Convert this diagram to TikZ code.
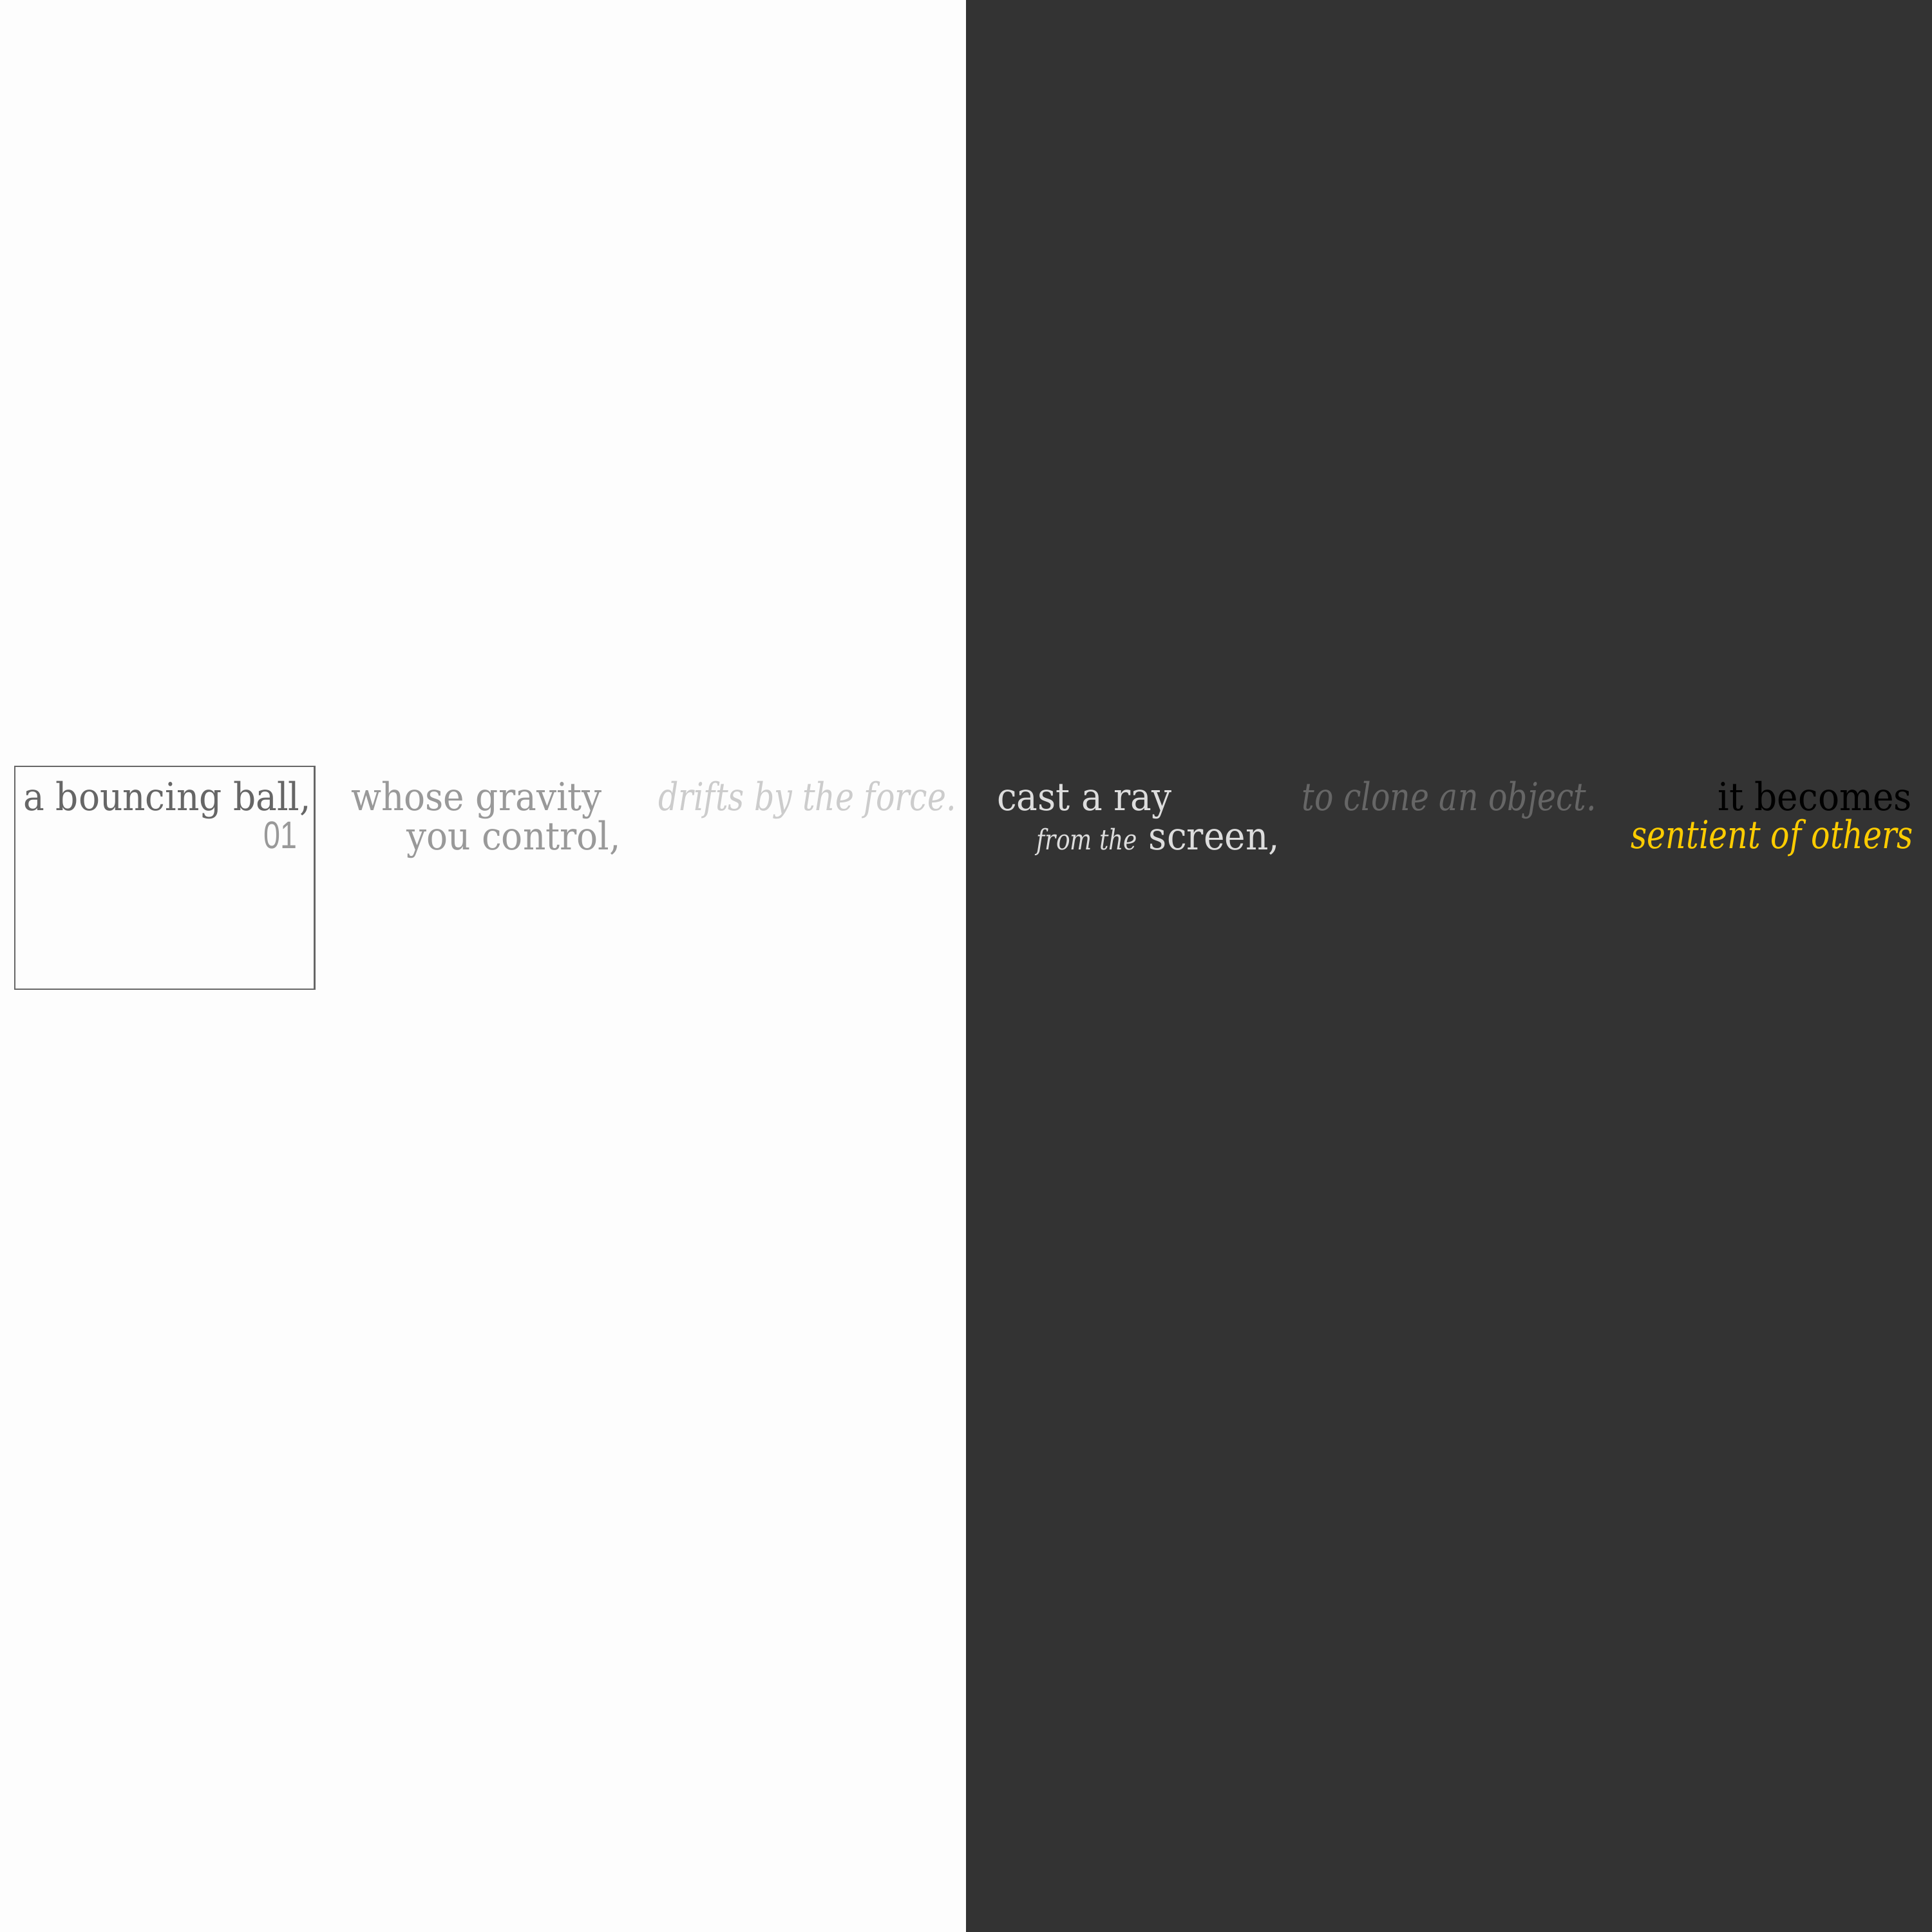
\documentclass[tikz,border=0pt]{standalone}
\usepackage{fontspec}
\setmainfont[FakeStretch=0.92,ItalicFeatures={FakeStretch=0.82}]{DejaVu Serif}
\newfontfamily\numfont[FakeStretch=0.78]{Liberation Sans}
\definecolor{paper}{HTML}{FDFDFD}
\definecolor{night}{HTML}{333333}
\definecolor{ink}{HTML}{666666}
\definecolor{fade}{HTML}{999999}
\definecolor{mist}{HTML}{CCCCCC}
\definecolor{chalk}{HTML}{DDDDDD}
\definecolor{gold}{HTML}{FFCC00}
\tikzset{
  line/.style={inner sep=0pt,outer sep=0pt,font=\fontsize{17}{20}\selectfont},
  slant/.style={line,font=\fontsize{17}{20}\selectfont\itshape}
}
\begin{document}
\begin{tikzpicture}
\useasboundingbox (0,0) rectangle (30,30);
\fill[paper] (0,0) rectangle (15,30);
\fill[night] (15,0) rectangle (30,30);

\draw[ink,line width=0.6pt] (0.23,14.64) rectangle (4.885,18.10);

\node[line,ink,anchor=base east](ball) at (4.83,17.41) {a bouncing ball,};
\node[inner sep=0pt,fade,anchor=base east,font=\fontsize{17}{20}\numfont](num) at (4.62,16.82) {01};

\node[line,fade,anchor=base east](grav) at (9.35,17.41) {whose gravity};
\node[line,fade,anchor=base east](ctrl) at (9.64,16.80) {you control,};

\node[slant,mist,anchor=base east](drift) at (14.85,17.41) {drifts by the force.};

\node[line,chalk,anchor=base west](ray) at (15.48,17.41) {cast a ray};
\node[line,chalk,anchor=base east](scr) at (19.87,16.80) {{\fontsize{12.5}{15}\selectfont\itshape from the} screen,};

\node[slant,ink,anchor=base east](clone) at (24.79,17.41) {to clone an object.};

\node[line,black,anchor=base east](becomes) at (29.69,17.41) {it becomes};
\node[slant,gold,anchor=base east](others) at (29.71,16.82) {sentient of others};

\end{tikzpicture}
\end{document}
